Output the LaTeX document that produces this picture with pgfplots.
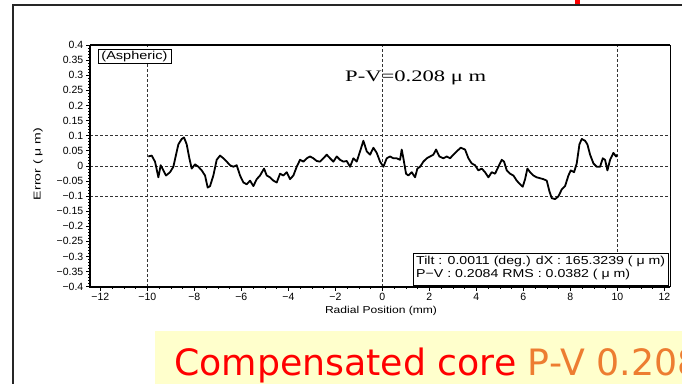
\documentclass[border=0pt]{standalone}
\usepackage{fontspec}
\setmainfont{Liberation Sans}
\newfontfamily\seriffont{Liberation Serif}
\newfontfamily\bigfont{DejaVu Sans}
\usepackage{graphicx}
\usepackage{pgfplots}
\pgfplotsset{compat=1.18}
\definecolor{slideyellow}{HTML}{FFFFCC}
\definecolor{pvorange}{HTML}{ED7D31}
\newcommand{\wtext}[2]{\resizebox{#1}{\height}{#2}}
\begin{document}
\begin{tikzpicture}[x=1bp,y=1bp]
\useasboundingbox (0,0) rectangle (682,383);
\fill[white] (0,0) rectangle (682,383);
% slide frame
\draw[line width=1.3bp, black!85] (13,-5) -- (13,378) -- (690,378);
\fill[red] (575,379) rectangle (580,384);
% yellow caption box
\fill[slideyellow] (155,-2) rectangle (690,52);
\node[anchor=base west, inner sep=0, font=\bigfont\fontsize{36.3bp}{40bp}\selectfont] at (174,7.5)
  {\textcolor{red}{Compensated core} \textcolor{pvorange}{P-V 0.208}};

\begin{axis}[
  at={(90bp,96.3bp)}, anchor=south west, scale only axis,
  width=580bp, height=241.7bp,
  xmin=-12.44, xmax=12.24, ymin=-0.4, ymax=0.4,
  clip=false,
  axis line style={line width=0.8bp, black},
  xtick={-12,-10,-8,-6,-4,-2,0,2,4,6,8,10,12},
  xticklabels={−12,−10,−8,−6,−4,−2,0,2,4,6,8,10,12},
  ytick={-0.4,-0.35,-0.3,-0.25,-0.2,-0.15,-0.1,-0.05,0,0.05,0.1,0.15,0.2,0.25,0.3,0.35,0.4},
  yticklabels={−0.4,−0.35,−0.3,−0.25,−0.2,−0.15,−0.1,−0.05,0,0.05,0.1,0.15,0.2,0.25,0.3,0.35,0.4},
  minor x tick num=3, minor y tick num=4,
  tick align=outside, tick pos=left,
  major tick length=4bp, minor tick length=2bp,
  tick style={black, line width=0.6bp},
  minor tick style={black, line width=0.5bp},
  tick label style={font=\fontsize{10.5bp}{11bp}\selectfont},
  yticklabel style={inner xsep=2.5bp},
  xticklabel style={inner ysep=2.5bp},
]
% dashed reference lines
\draw[line width=0.7bp, black!80, dash pattern=on 3bp off 2bp] (axis cs:-10,-0.4) -- (axis cs:-10,0.4);
\draw[line width=0.7bp, black!80, dash pattern=on 3bp off 2bp] (axis cs:0,-0.4) -- (axis cs:0,0.4);
\draw[line width=0.7bp, black!80, dash pattern=on 3bp off 2bp] (axis cs:10,-0.4) -- (axis cs:10,0.4);
\draw[line width=0.7bp, black!80, dash pattern=on 3bp off 2bp] (axis cs:-12.44,0.1) -- (axis cs:12.24,0.1);
\draw[line width=0.7bp, black!80, dash pattern=on 3bp off 2bp] (axis cs:-12.44,0) -- (axis cs:12.24,0);
\draw[line width=0.7bp, black!80, dash pattern=on 3bp off 2bp] (axis cs:-12.44,-0.1) -- (axis cs:12.24,-0.1);
% thick frame sides
\draw[line width=2.2bp, black] (rel axis cs:0,1) -- (rel axis cs:0,0) -- (rel axis cs:1,0);
\draw[line width=1.5bp, black] (rel axis cs:0,1) -- (rel axis cs:1,1);

\addplot[black, line width=1.8bp, line join=round] coordinates {
(-9.956,0.031) (-9.815,0.034) (-9.673,0.014) (-9.531,-0.038) (-9.432,0.002) (-9.318,-0.015) (-9.205,-0.032) (-9.034,-0.021) (-8.893,-0.003) (-8.779,0.037) (-8.680,0.071) (-8.538,0.089) (-8.439,0.094) (-8.325,0.071) (-8.212,0.025) (-8.112,-0.009) (-7.971,0.005) (-7.829,-0.003) (-7.687,-0.015) (-7.545,-0.032) (-7.432,-0.072) (-7.332,-0.067) (-7.191,-0.032) (-7.049,0.020) (-6.907,0.034) (-6.765,0.025) (-6.623,0.014) (-6.481,0.002) (-6.339,-0.003) (-6.198,0.002) (-6.056,-0.032) (-5.914,-0.055) (-5.772,-0.061) (-5.630,-0.049) (-5.488,-0.067) (-5.346,-0.044) (-5.205,-0.032) (-5.034,-0.009) (-4.920,-0.032) (-4.779,-0.038) (-4.637,-0.049) (-4.495,-0.055) (-4.353,-0.026) (-4.211,-0.032) (-4.069,-0.021) (-3.928,-0.044) (-3.786,-0.032) (-3.644,-0.003) (-3.502,0.020) (-3.360,0.014) (-3.218,0.025) (-3.077,0.031) (-2.935,0.025) (-2.793,0.016) (-2.651,0.014) (-2.509,0.025) (-2.367,0.037) (-2.226,0.025) (-2.084,0.014) (-1.942,0.031) (-1.800,0.020) (-1.658,0.014) (-1.516,0.016) (-1.374,-0.003) (-1.233,0.025) (-1.091,0.014) (-0.949,0.048) (-0.807,0.083) (-0.665,0.048) (-0.523,0.037) (-0.381,0.060) (-0.240,0.043) (-0.098,0.014) (0.044,-0.003) (0.186,0.025) (0.328,0.031) (0.469,0.025) (0.611,0.025) (0.753,0.020) (0.824,0.054) (0.895,0.025) (1.008,-0.026) (1.108,-0.032) (1.250,-0.021) (1.391,-0.038) (1.491,-0.009) (1.604,-0.003) (1.746,0.014) (1.888,0.025) (2.030,0.031) (2.171,0.037) (2.285,0.054) (2.427,0.031) (2.597,0.025) (2.739,0.031) (2.881,0.025) (3.022,0.037) (3.164,0.048) (3.335,0.060) (3.519,0.054) (3.661,0.025) (3.803,0.008) (3.945,0.002) (4.086,-0.015) (4.228,-0.009) (4.370,-0.021) (4.512,-0.038) (4.654,-0.021) (4.796,-0.026) (4.937,-0.003) (5.079,0.020) (5.179,0.014) (5.293,-0.015) (5.434,-0.026) (5.576,-0.032) (5.718,-0.049) (5.860,-0.061) (5.973,-0.069) (6.073,-0.044) (6.172,-0.009) (6.286,-0.021) (6.427,-0.032) (6.569,-0.038) (6.711,-0.041) (6.853,-0.044) (6.995,-0.049) (7.108,-0.084) (7.208,-0.107) (7.349,-0.110) (7.491,-0.101) (7.633,-0.078) (7.775,-0.067) (7.917,-0.032) (8.016,-0.015) (8.158,-0.021) (8.271,0.008) (8.385,0.071) (8.484,0.089) (8.626,0.083) (8.725,0.071) (8.839,0.037) (8.981,0.008) (9.122,-0.003) (9.264,-0.003) (9.378,0.025) (9.477,0.020) (9.576,-0.015) (9.690,0.020) (9.832,0.043) (9.945,0.031) (10.002,0.037)
};
\end{axis}

% axis labels
\node[rotate=90, inner sep=0, font=\fontsize{10bp}{11bp}\selectfont] at (38,219) {\wtext{72bp}{Error ( μ m)}};
\node[inner sep=0, font=\fontsize{10bp}{11bp}\selectfont] at (381,72) {\wtext{112bp}{Radial Position (mm)}};

% (Aspheric) tag
\draw[line width=0.8bp, black, fill=white] (98,320) rectangle (171,334);
\node[inner sep=0, font=\fontsize{11.5bp}{12bp}\selectfont] at (134.5,326.6) {\wtext{66bp}{(Aspheric)}};

% P-V annotation
\node[anchor=base west, inner sep=0, font=\seriffont\fontsize{16bp}{18bp}\selectfont] at (345,302) {\wtext{141bp}{P-V=0.208 μ m}};

% info box
\draw[line width=1bp, black, fill=white] (413,98) rectangle (668,130);
\node[anchor=west, inner sep=0, font=\fontsize{11.5bp}{12bp}\selectfont] at (416,121.3) {\wtext{249bp}{Tilt : 0.0011 (deg.) dX : 165.3239 ( μ m)}};
\node[anchor=west, inner sep=0, font=\fontsize{11.5bp}{12bp}\selectfont] at (416,108.5) {\wtext{214bp}{P−V : 0.2084 RMS : 0.0382 ( μ m)}};
\end{tikzpicture}
\end{document}
